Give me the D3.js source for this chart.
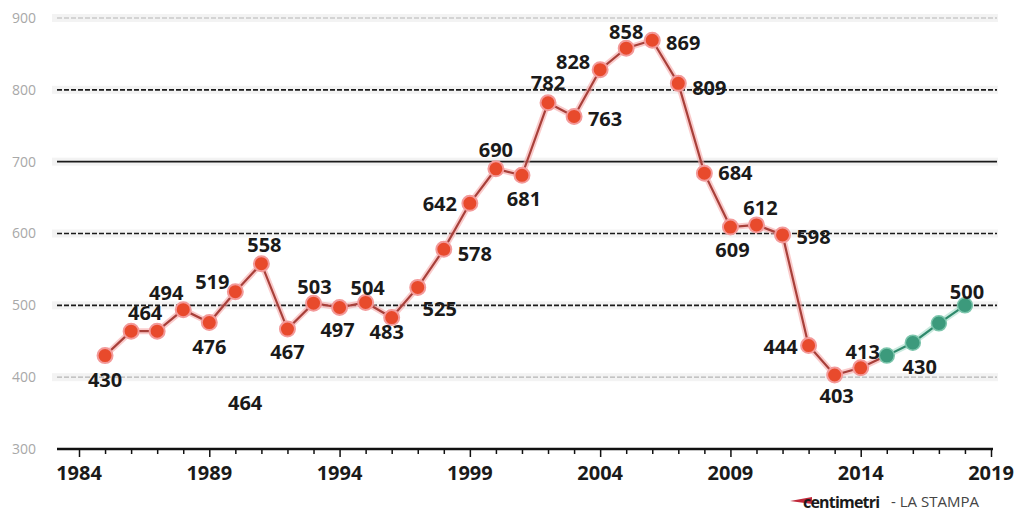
<!DOCTYPE html>
<html>
<head>
<meta charset="utf-8">
<script src="https://cdn.jsdelivr.net/npm/d3@7"></script>
<style>
  body { margin: 0; background: #fff; }
  svg text { font-family: "Open Sans", "DejaVu Sans", sans-serif; }
</style>
</head>
<body>
<div id="chart"></div>
<script>
// data
var years = [1985, 1986, 1987, 1988, 1989, 1990, 1991, 1992, 1993, 1994,
             1995, 1996, 1997, 1998, 1999, 2000, 2001, 2002, 2003, 2004,
             2005, 2006, 2007, 2008, 2009, 2010, 2011, 2012, 2013, 2014];
var values = [430, 464, 464, 494, 476, 519, 558, 467, 503, 497,
              504, 483, 525, 578, 642, 690, 681, 782, 763, 828,
              858, 869, 809, 684, 609, 612, 598, 444, 403, 413];
var forecastYears = [2015, 2016, 2017, 2018];
var forecastValues = [430, 448, 475, 500];
var forecastLabelled = [true, false, false, true];
var yTicks = [300, 400, 500, 600, 700, 800, 900];
var xTicks = [1984, 1989, 1994, 1999, 2004, 2009, 2014, 2019];

// label placement (pixels from the marker)
var labelOffsets = [[0, 24], [14, -18], [88, 72], [-17, -17], [0, 24], [-23, -10], [3, -19], [0, 23], [1, -16], [-2, 22],
                    [2, -15], [-5, 14], [22, 21], [31, 4], [-30, 0], [0, -19], [2, 23], [0, -20], [31, 2], [-27, -8],
                    [0, -16], [31, 3], [31, 4], [31, 0], [2, 23], [4, -17], [31, 2], [-28, 1], [2, 21], [2, -16]];
var forecastOffsets = [[33, 11], [0, 0], [0, 0], [2, -14]];

var W = 1019, H = 514;
var svg = d3.select("#chart").append("svg").attr("width", W).attr("height", H);

var x = d3.scaleLinear().domain([1984, 2019]).range([79, 991]);
var y = d3.scaleLinear().domain([300, 900]).range([449, 18]);

// grid
var grid = svg.append("g");
yTicks.filter(function(t){ return t > 300; }).forEach(function(t){
    var dark = (t >= 500 && t <= 800);
    grid.append("rect").attr("x", 52).attr("y", y(t) - 4).attr("width", 946).attr("height", 8)
        .attr("fill", "#f3f3f3");
    grid.append("line").attr("x1", 57).attr("x2", 997).attr("y1", y(t)).attr("y2", y(t))
        .attr("stroke", dark ? "#1a1a1a" : "#b5b5b5")
        .attr("stroke-width", dark ? 1.6 : 1.2)
        .attr("stroke-dasharray", t == 700 ? null : "5,2");
});

// y labels
svg.append("g").selectAll("text").data(yTicks).enter().append("text")
    .attr("x", 36).attr("y", function(d){ return y(d); })
    .attr("dy", "0.35em").attr("text-anchor", "end")
    .attr("font-size", 14).attr("fill", "#a8a8a8")
    .text(function(d){ return d; });

// x axis
var xAxis = d3.axisBottom(x).tickValues(d3.range(1984, 2020)).tickSize(0).tickFormat("");
var ax = svg.append("g").attr("transform", "translate(0," + y(300) + ")").call(xAxis);
ax.select(".domain").remove();
ax.append("line").attr("x1", 57).attr("x2", 993).attr("stroke", "#111").attr("stroke-width", 2.5);
ax.selectAll(".tick line").attr("y2", function(d){ return d % 5 == 4 ? 8 : 5; })
    .attr("stroke", "#111").attr("stroke-width", 1.5);
svg.append("g").selectAll("text").data(xTicks).enter().append("text")
    .attr("x", function(d){ return x(d); }).attr("y", 473)
    .attr("dy", "0.35em").attr("text-anchor", "middle")
    .attr("font-size", 20).attr("font-weight", "bold").attr("fill", "#1a1a1a")
    .text(function(d){ return d; });

// lines
var redPts = years.map(function(yr, i){ return [yr, values[i]]; });
redPts.push([forecastYears[0], forecastValues[0]]);
var greenPts = forecastYears.map(function(yr, i){ return [yr, forecastValues[i]]; });
var line = d3.line().x(function(d){ return x(d[0]); }).y(function(d){ return y(d[1]); });

svg.append("path").attr("d", line(redPts)).attr("fill", "none")
    .attr("stroke", "#f6a9a9").attr("stroke-width", 6).attr("opacity", 0.6);
svg.append("path").attr("d", line(redPts)).attr("fill", "none")
    .attr("stroke", "#a8403a").attr("stroke-width", 2.2);
svg.append("path").attr("d", line(greenPts)).attr("fill", "none")
    .attr("stroke", "#a6dcc9").attr("stroke-width", 6).attr("opacity", 0.6);
svg.append("path").attr("d", line(greenPts)).attr("fill", "none")
    .attr("stroke", "#2f8a6c").attr("stroke-width", 2.2);

// markers
svg.append("g").selectAll("circle").data(redPts.slice(0, years.length)).enter().append("circle")
    .attr("cx", function(d){ return x(d[0]); }).attr("cy", function(d){ return y(d[1]); })
    .attr("r", 7.5).attr("fill", "#e84a2c").attr("stroke", "#f39a9a").attr("stroke-width", 2);
svg.append("g").selectAll("circle").data(greenPts).enter().append("circle")
    .attr("cx", function(d){ return x(d[0]); }).attr("cy", function(d){ return y(d[1]); })
    .attr("r", 7.5).attr("fill", "#3c9a7c").attr("stroke", "#7cc5ac").attr("stroke-width", 1.5);

// value labels
var labels = svg.append("g").attr("font-size", 20).attr("font-weight", "bold").attr("fill", "#1a1a1a")
    .attr("text-anchor", "middle");
years.forEach(function(yr, i){
    labels.append("text")
        .attr("x", x(yr) + labelOffsets[i][0]).attr("y", y(values[i]) + labelOffsets[i][1])
        .attr("dy", "0.36em").text(values[i]);
});
forecastYears.forEach(function(yr, i){
    if (!forecastLabelled[i]) return;
    labels.append("text")
        .attr("x", x(yr) + forecastOffsets[i][0]).attr("y", y(forecastValues[i]) + forecastOffsets[i][1])
        .attr("dy", "0.36em").text(forecastValues[i]);
});

// credit
var credit = svg.append("g").attr("transform", "translate(0,502)");
credit.append("path").attr("d", "M790,-1 L812,-5 L812,2 Z").attr("fill", "#c0283a");
credit.append("text").attr("x", 803).attr("y", 0).attr("dy", "0.35em")
    .attr("font-size", 16).attr("font-weight", "bold").attr("fill", "#1a1a1a")
    .attr("letter-spacing", -0.8).text("centimetri");
credit.append("text").attr("x", 891).attr("y", 0).attr("dy", "0.35em")
    .attr("font-size", 15).attr("fill", "#444").text("- LA STAMPA");
</script>
</body>
</html>
